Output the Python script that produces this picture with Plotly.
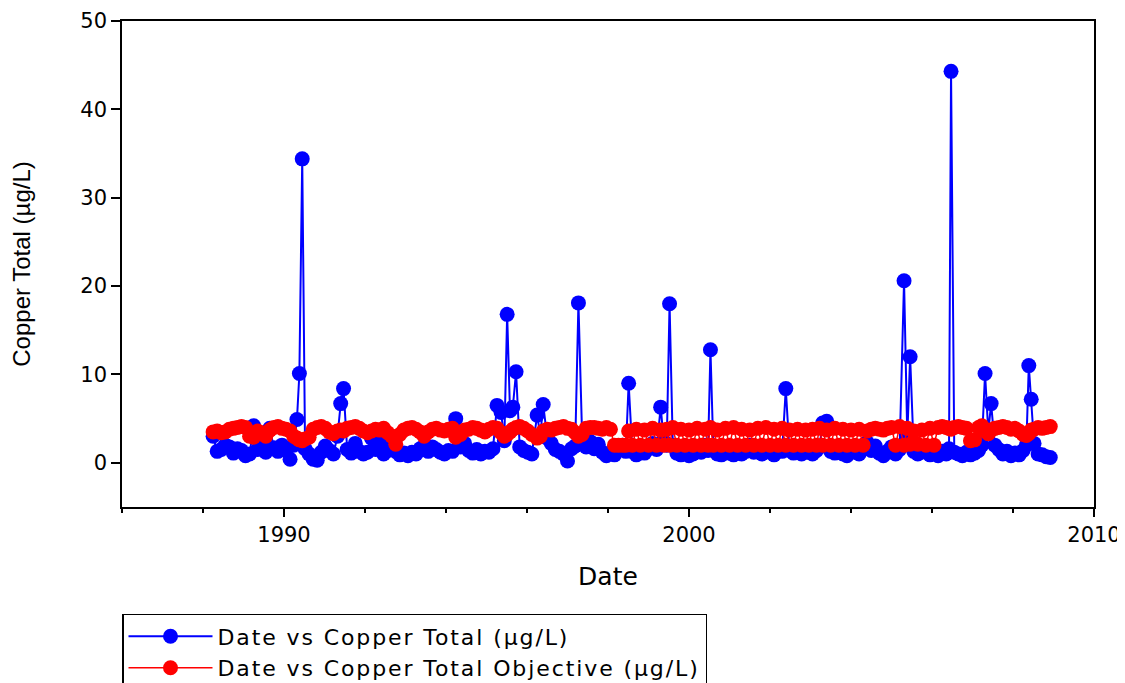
import plotly.graph_objects as go

# Sampling dates (decimal years)
dates = [
    1988.25, 1988.35, 1988.45, 1988.55, 1988.65, 1988.75, 1988.85, 1988.95,
    1989.05, 1989.15, 1989.25, 1989.35, 1989.45, 1989.55, 1989.65, 1989.75, 1989.85, 1989.95,
    1990.05, 1990.15, 1990.24, 1990.32, 1990.38, 1990.45, 1990.52, 1990.62, 1990.72, 1990.82, 1990.92,
    1991.02, 1991.12, 1991.22, 1991.32, 1991.40, 1991.47, 1991.56, 1991.66, 1991.76, 1991.86, 1991.96,
    1992.06, 1992.16, 1992.26, 1992.36, 1992.46, 1992.56, 1992.66, 1992.76, 1992.86, 1992.96,
    1993.06, 1993.16, 1993.26, 1993.36, 1993.46, 1993.56, 1993.66, 1993.76, 1993.86, 1993.96,
    1994.06, 1994.16, 1994.24, 1994.36, 1994.46, 1994.56, 1994.66, 1994.76, 1994.86, 1994.96,
    1995.06, 1995.16, 1995.26, 1995.36, 1995.44, 1995.51, 1995.58, 1995.65, 1995.73, 1995.82, 1995.92,
    1996.02, 1996.12, 1996.25, 1996.33, 1996.40, 1996.50, 1996.60, 1996.70, 1996.80, 1996.90,
    1997.00, 1997.10, 1997.19, 1997.27, 1997.36, 1997.46, 1997.56, 1997.66, 1997.76, 1997.86, 1997.96,
    1998.06, 1998.16, 1998.26, 1998.36, 1998.44, 1998.51, 1998.60, 1998.70, 1998.80, 1998.90,
    1999.00, 1999.10, 1999.20, 1999.30, 1999.38, 1999.45, 1999.52, 1999.60, 1999.70, 1999.80, 1999.90,
    2000.00, 2000.10, 2000.20, 2000.30, 2000.40, 2000.47, 2000.53, 2000.60, 2000.70, 2000.80, 2000.90,
    2001.00, 2001.10, 2001.20, 2001.30, 2001.40, 2001.50, 2001.60, 2001.70, 2001.80, 2001.90,
    2002.00, 2002.10, 2002.20, 2002.30, 2002.39, 2002.48, 2002.58, 2002.68, 2002.78, 2002.88, 2002.96,
    2003.05, 2003.15, 2003.22, 2003.30, 2003.40, 2003.50, 2003.60, 2003.70, 2003.80, 2003.90,
    2004.00, 2004.10, 2004.20, 2004.30, 2004.40, 2004.50, 2004.60, 2004.70, 2004.80, 2004.90,
    2005.00, 2005.10, 2005.20, 2005.31, 2005.39, 2005.46, 2005.55, 2005.65, 2005.75, 2005.85, 2005.95,
    2006.05, 2006.15, 2006.25, 2006.35, 2006.42, 2006.47, 2006.55, 2006.65, 2006.75, 2006.85, 2006.95,
    2007.05, 2007.15, 2007.23, 2007.31, 2007.39, 2007.46, 2007.55, 2007.65, 2007.75, 2007.85, 2007.95,
    2008.05, 2008.15, 2008.25, 2008.33, 2008.39, 2008.45, 2008.52, 2008.62, 2008.72, 2008.82, 2008.92,
]

# Copper Total (µg/L)
copper_total = [
    3.0, 1.3, 1.5, 2.0, 1.8, 1.1, 1.6, 1.4,
    0.8, 1.0, 4.2, 1.5, 2.4, 1.2, 3.9, 1.7, 1.3, 2.0,
    1.4, 0.4, 2.0, 4.9, 10.1, 34.4, 1.6, 1.0, 0.4, 0.3, 1.2,
    1.9, 1.4, 1.0, 3.0, 6.7, 8.4, 1.5, 1.1, 2.2, 1.3, 1.0,
    1.2, 2.8, 1.5, 2.2, 1.0, 1.4, 2.0, 1.3, 0.9, 1.1,
    0.8, 1.2, 1.0, 1.6, 1.9, 1.3, 1.8, 1.5, 1.2, 1.0,
    1.4, 1.3, 5.0, 1.8, 2.2, 1.4, 1.1, 1.5, 1.0, 1.3,
    1.2, 1.6, 6.5, 5.7, 2.5, 16.8, 5.9, 6.3, 10.3, 1.8, 1.4,
    1.2, 1.0, 5.4, 3.1, 6.6, 2.8, 2.2, 1.5, 1.3, 1.0,
    0.2, 1.6, 1.9, 18.1, 3.2, 1.8, 2.4, 1.6, 2.1, 1.2, 0.8,
    1.1, 0.9, 1.5, 2.0, 1.3, 9.0, 1.3, 0.9, 1.4, 1.1,
    1.6, 2.2, 1.5, 6.3, 2.4, 2.0, 18.0, 2.0, 1.1, 0.9, 1.3,
    0.8, 1.0, 1.5, 1.2, 2.0, 1.4, 12.8, 1.7, 1.0, 0.9, 1.5,
    1.1, 0.9, 1.6, 1.0, 1.3, 2.0, 1.2, 1.4, 1.0, 1.6,
    1.2, 0.9, 1.8, 1.3, 8.4, 1.4, 1.1, 1.3, 1.0, 1.5, 1.2,
    1.0, 1.4, 1.8, 4.5, 4.7, 1.3, 1.1, 1.6, 1.0, 0.8,
    1.2, 1.5, 1.0, 2.0, 2.3, 1.4, 1.9, 1.1, 0.8, 1.3,
    1.8, 1.0, 1.5, 20.6, 3.0, 12.0, 1.3, 1.0, 1.5, 1.2, 0.9,
    1.1, 0.8, 1.3, 1.0, 1.6, 44.3, 1.2, 1.0, 0.8, 1.2, 0.9,
    1.1, 1.4, 2.0, 10.1, 3.5, 6.7, 2.0, 1.5, 1.0, 1.3, 0.8,
    1.1, 0.9, 1.4, 2.0, 11.0, 7.2, 2.2, 1.0, 0.9, 0.7, 0.6,
]

# Copper Total Objective (µg/L)
copper_objective = [
    3.5, 3.6, 3.4, 3.5, 3.8, 3.9, 4.0, 4.1,
    4.0, 3.0, 2.9, 3.6, 3.4, 3.0, 3.7, 4.0, 4.1, 3.9,
    3.8, 3.6, 3.0, 2.8, 2.6, 2.5, 2.7, 2.9, 3.8, 4.0, 4.1,
    3.9, 3.5, 3.3, 3.6, 3.7, 3.6, 3.9, 4.0, 4.1, 3.9, 3.6,
    3.4, 3.6, 3.8, 3.7, 3.9, 3.4, 3.0, 2.1, 3.2, 3.7,
    3.9, 4.0, 3.8, 3.5, 3.0, 3.5, 3.8, 3.9, 3.7, 3.6,
    3.8, 3.9, 2.9, 3.2, 3.7, 3.8, 4.0, 3.9, 3.7, 3.5,
    3.8, 4.0, 3.9, 3.4, 3.0, 3.2, 3.5, 3.8, 4.0, 4.1, 3.9,
    3.6, 3.2, 2.8, 3.0, 3.6, 3.8, 3.7, 3.9, 4.0, 4.1,
    3.9, 3.8, 3.4, 3.0, 3.2, 3.9, 4.0, 4.0, 3.9, 3.8, 4.0,
    3.8, 2.0, 2.0, 2.0, 2.0, 3.6, 2.0, 3.8, 2.0, 3.7,
    2.0, 3.9, 2.0, 3.7, 2.0, 3.8, 2.0, 4.0, 2.0, 3.8, 2.0,
    3.7, 2.0, 3.9, 2.0, 3.8, 2.0, 4.0, 2.0, 3.7, 2.0, 3.9,
    2.0, 4.0, 2.0, 3.8, 2.0, 3.7, 2.0, 3.9, 2.0, 4.0,
    2.0, 3.8, 2.0, 3.9, 2.0, 3.7, 2.0, 3.8, 2.0, 3.7, 2.0,
    3.8, 2.0, 3.9, 2.0, 3.7, 2.0, 3.9, 2.0, 3.8, 2.0,
    3.7, 2.0, 3.8, 2.0, 3.6, 3.8, 3.9, 3.8, 3.7, 3.9,
    4.0, 2.0, 4.1, 2.0, 3.9, 2.1, 3.6, 2.1, 3.7, 2.0, 3.9,
    2.0, 4.0, 4.1, 4.0, 3.9, 3.8, 4.0, 4.1, 4.0, 3.9, 2.5,
    2.6, 4.0, 4.2, 3.6, 3.3, 3.7, 3.9, 4.0, 4.1, 4.0, 3.8,
    3.9, 3.6, 3.2, 3.1, 3.3, 3.7, 3.8, 4.0, 3.9, 4.0, 4.1,
]

assert len(dates) == len(copper_total) == len(copper_objective)

x_major_ticks = [1990, 2000, 2010]
y_ticks = [0, 10, 20, 30, 40, 50]
series_names = [
    "Date vs Copper Total (µg/L)",
    "Date vs Copper Total Objective (µg/L)",
]


def legend_label(text):
    return '<span style="letter-spacing:1.9px">' + text + "</span>"


fig = go.Figure()
fig.add_trace(go.Scatter(
    x=dates, y=copper_total, mode="lines+markers",
    name=legend_label(series_names[0]),
    line=dict(color="#0000FF", width=2),
    marker=dict(color="#0000FF", size=15, line=dict(width=0)),
))
fig.add_trace(go.Scatter(
    x=dates, y=copper_objective, mode="lines+markers",
    name=legend_label(series_names[1]),
    line=dict(color="#FF0000", width=1.5),
    marker=dict(color="#FF0000", size=15, line=dict(width=0)),
))

tick_font = dict(family="DejaVu Sans", size=21, color="black")

fig.update_layout(
    width=1125, height=683,
    paper_bgcolor="white", plot_bgcolor="white",
    margin=dict(l=114, r=39, t=13, b=184, autoexpand=False),
    showlegend=True,
    legend=dict(
        x=0, y=-0.22, xanchor="left", yanchor="top",
        bgcolor="white", bordercolor="black", borderwidth=1.5,
        font=dict(family="DejaVu Sans", size=22, color="black"),
        itemwidth=84, tracegroupgap=0,
    ),
    xaxis=dict(
        range=[1986, 2010], tickmode="array", tickvals=x_major_ticks,
        ticktext=[str(v) for v in x_major_ticks],
        ticks="outside", ticklen=8, tickwidth=1.5, tickcolor="black",
        minor=dict(tickmode="linear", tick0=1986, dtick=2, ticks="outside",
                   ticklen=4, tickwidth=1.5, tickcolor="black", showgrid=False),
        showgrid=False, zeroline=False, automargin=False,
        ticklabeloverflow="allow",
        showline=True, linecolor="black", linewidth=1.5, mirror=True,
        tickfont=tick_font,
        title=dict(text="Date", font=dict(family="DejaVu Sans", size=25, color="black"), standoff=22),
    ),
    yaxis=dict(
        range=[-5, 50], tickmode="array", tickvals=y_ticks,
        ticks="outside", ticklen=9, tickwidth=1.5, tickcolor="black",
        showgrid=False, zeroline=False, automargin=False,
        ticklabeloverflow="allow",
        showline=True, linecolor="black", linewidth=1.5, mirror=True,
        tickfont=tick_font,
        title=dict(text="Copper Total (µg/L)", font=dict(family="Liberation Sans", size=24, color="black"), standoff=50),
    ),
)

fig.write_html("out.html")
